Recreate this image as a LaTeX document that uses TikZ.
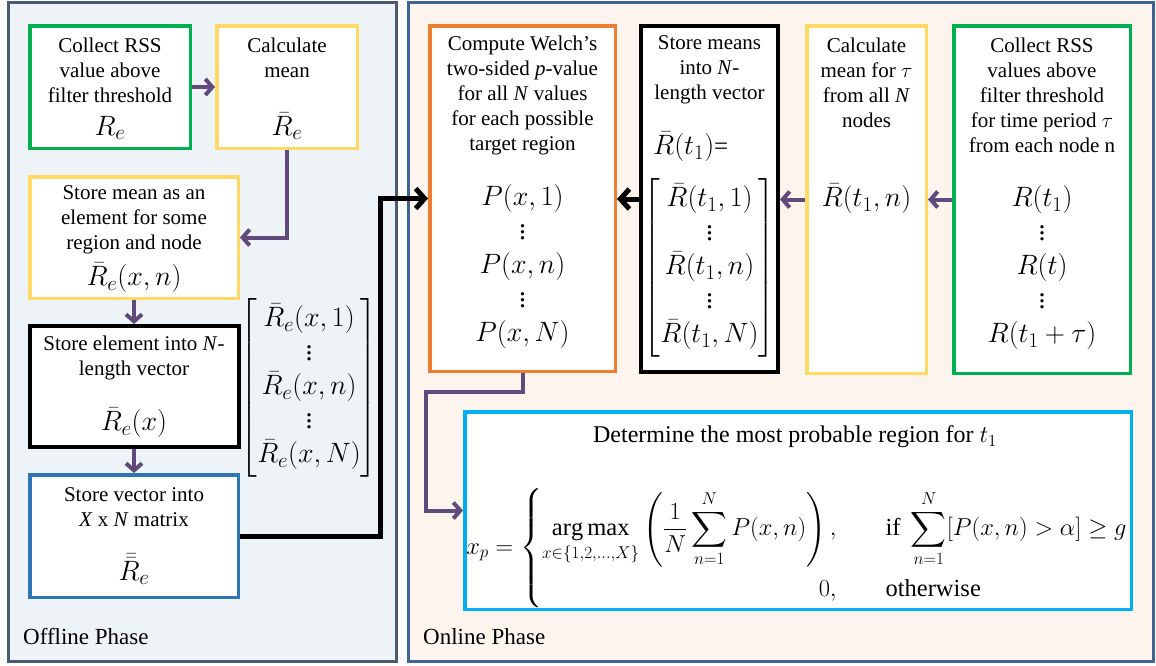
\RequirePackage{fix-cm}
\documentclass[tikz,border=0pt]{standalone}
\usepackage{amsmath}
\usepackage{fontspec}
\setmainfont{Liberation Serif}
\usepackage{tikz}
\usetikzlibrary{arrows.meta}
\definecolor{OffFill}{HTML}{EEF3F8}
\definecolor{OnFill}{HTML}{FDF4EE}
\definecolor{OffEdge}{HTML}{4B5B72}
\definecolor{OnEdge}{HTML}{3F6396}
\definecolor{BoxGreen}{HTML}{00B050}
\definecolor{BoxYellow}{HTML}{FFD966}
\definecolor{BoxBlue}{HTML}{2E75B6}
\definecolor{BoxOrange}{HTML}{ED7D31}
\definecolor{BoxCyan}{HTML}{00B0F0}
\definecolor{FlowPurple}{HTML}{604A7B}
\DeclareMathSizes{28}{28}{21}{16}
\newcommand{\colvdots}{\vbox{\baselineskip6pt\lineskiplimit0pt\kern4pt\hbox{.}\hbox{.}\hbox{.}}}

\begin{document}
\begin{tikzpicture}[x=1pt,y=-1pt,
  panel/.style={draw,line width=3pt,inner sep=0pt},
  stage/.style={draw,line width=3.5pt,fill=white,inner sep=0pt},
  txt/.style={align=center,inner sep=0pt,font=\fontsize{21}{25}\selectfont},
  eqn/.style={inner sep=0pt,font=\fontsize{28}{34}\selectfont},
  flow/.style={FlowPurple,line width=4pt,-{Straight Barb[length=7pt,width=16pt]}},
  feed/.style={black,line width=5pt,-{Straight Barb[length=9pt,width=20pt]}}]
  \useasboundingbox (0,0) rectangle (1156,665);

  % two phases
  \node[panel,draw=OffEdge,fill=OffFill,minimum width=388,minimum height=659] (offline) at (202,332) {};
  \node[panel,draw=OnEdge,fill=OnFill,minimum width=745,minimum height=659] (online) at (781,332) {};
  \node[anchor=west,inner sep=0pt,font=\fontsize{23}{26}\selectfont] (offlinelbl) at (23,637) {Offline Phase};
  \node[anchor=west,inner sep=0pt,font=\fontsize{23}{26}\selectfont] (onlinelbl) at (423,637) {Online Phase};

  % offline boxes
  \node[stage,draw=BoxGreen,minimum width=160.5,minimum height=122.5] (collect) at (110,87) {};
  \node[stage,draw=BoxYellow,minimum width=140.5,minimum height=122.5] (calcmean) at (287,87) {};
  \node[stage,draw=BoxYellow,minimum width=208.5,minimum height=121.5] (storemean) at (134,237.5) {};
  \node[stage,draw=black,line width=4pt,minimum width=209,minimum height=121] (storeelem) at (134,386.5) {};
  \node[stage,draw=BoxBlue,minimum width=208.5,minimum height=122.5] (storevec) at (134,536) {};

  \node[txt] (collectlbl) at (110,70) {Collect RSS\\value above\\filter threshold};
  \node[eqn] (collecteq) at (110,128) {$R_e$};
  \node[txt] (calcmeanlbl) at (287,57.5) {Calculate\\mean};
  \node[eqn] (calcmeaneq) at (287,126) {$\bar{R}_e$};
  \node[txt] (storemeanlbl) at (134,220) {Store mean as an\\element for some\\region and node};
  \node[eqn] (storemeaneq) at (134,278) {$\bar{R}_e(x,n)$};
  \node[txt] (storeelemlbl) at (134,357.5) {Store element into \textit{N}-\\length vector};
  \node[eqn] (storeelemeq) at (134,423) {$\bar{R}_e(x)$};
  \node[txt] (storeveclbl) at (134,507.5) {Store vector into\\\textit{X} x \textit{N} matrix};
  \node[eqn] (storeveceq) at (134,569) {$\bar{\bar{R}}_e$};
  \node[eqn] (elemvector) at (309,388) {$\begin{bmatrix} \bar{R}_e(x,1)\\ \colvdots\\ \bar{R}_e(x,n)\\ \colvdots\\ \bar{R}_e(x,N) \end{bmatrix}$};

  % online boxes
  \node[stage,draw=BoxOrange,minimum width=185.5,minimum height=345.5] (welch) at (522.5,198.5) {};
  \node[stage,draw=black,line width=4pt,minimum width=137,minimum height=346] (storemeans) at (709.5,199) {};
  \node[stage,draw=BoxYellow,minimum width=119.5,minimum height=347.5] (calctau) at (866.5,199.5) {};
  \node[stage,draw=BoxGreen,minimum width=176.5,minimum height=347.5] (collectt) at (1042,199.5) {};
  \node[stage,draw=BoxCyan,minimum width=666.5,minimum height=197.5] (determine) at (798,510.5) {};

  \node[txt] (welchlbl) at (522.5,95) {Compute Welch's\\two-sided \textit{p}-value\\for all \textit{N} values\\for each possible\\target region};
  \node[eqn] (welcheq) at (522.5,267) {$\begin{array}{c} P(x,1)\\ \colvdots\\ P(x,n)\\ \colvdots\\ P(x,N) \end{array}$};
  \node[txt] (storemeanslbl) at (709.5,70) {Store means\\into \textit{N}-\\length vector};
  \node[eqn,anchor=west] (storemeanseq) at (653,147) {$\bar{R}(t_1)$\fontsize{25}{30}\selectfont=};
  \node[eqn] (meanvector) at (709.5,268) {$\begin{bmatrix} \bar{R}(t_1,1)\\ \colvdots\\ \bar{R}(t_1,n)\\ \colvdots\\ \bar{R}(t_1,N) \end{bmatrix}$};
  \node[txt] (calctaulbl) at (866.5,82.5) {Calculate\\mean for $\tau$\\from all \textit{N}\\nodes};
  \node[eqn] (calctaueq) at (866.5,199) {$\bar{R}(t_1,n)$};
  \node[txt] (collecttlbl) at (1042,95) {Collect RSS\\values above\\filter threshold\\for time period $\tau$\\from each node n};
  \node[eqn] (collectteq) at (1042,268) {$\begin{array}{c} R(t_1)\\ \colvdots\\ R(t)\\ \colvdots\\ R(t_1+\tau) \end{array}$};

  \node[inner sep=0pt,font=\fontsize{24}{28}\selectfont] (determinelbl) at (795,437) {Determine the most probable region for $t_1$};
  \node[inner sep=0pt,font=\fontsize{24.5}{29}\selectfont] (determineeq) at (797,548)
    {$x_p=\left\{\begin{array}{@{}r@{\qquad}l@{}}
      \displaystyle\operatorname*{arg\,max}_{x\in\{1,2,\ldots,X\}}\left(\frac{1}{N}\sum_{n=1}^{N}P(x,n)\right), &
      \text{if }\displaystyle\sum_{n=1}^{N}[P(x,n)>\alpha]\geq g\\[32pt]
      0, & \text{otherwise}
    \end{array}\right.$};

  % connectors
  \draw[flow] (collect.east) -- (collect.east -| calcmean.west);
  \draw[flow] (calcmean.south) |- (storemean.east);
  \draw[flow] (storemean.south) -- (storemean.south |- storeelem.north);
  \draw[flow] (storeelem.south) -- (storeelem.south |- storevec.north);
  \coordinate (jog) at (380,198.5);
  \draw[feed] (storevec.east) -| (jog) -- (welch.west);
  \draw[feed] (storemeans.west) -- (storemeans.west -| welch.east);
  \draw[flow] (calctau.west) -- (calctau.west -| storemeans.east);
  \draw[flow] (collectt.west) -- (collectt.west -| calctau.east);
  \coordinate (drop) at (426,392);
  \draw[flow] (welch.south) |- (drop) |- (determine.west);
\end{tikzpicture}
\end{document}
